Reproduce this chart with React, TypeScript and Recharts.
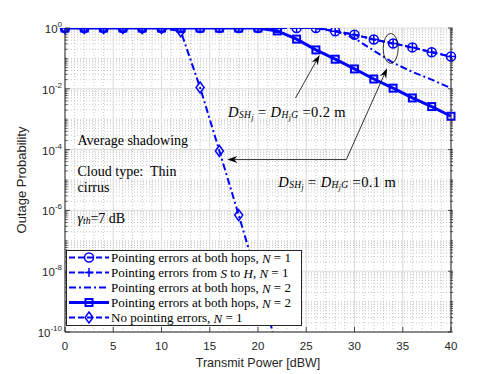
import { LineChart, Line, XAxis, YAxis, CartesianGrid, ReferenceLine, ReferenceDot } from 'recharts'

// transmit power (dBW) sample points
const power = [0, 2, 4, 6, 8, 10, 12, 14, 16, 18, 20, 22, 24, 26, 28, 30, 32, 34, 36, 38, 40]

// outage probability per curve
const bothHopsN1 = [1, 1, 1, 1, 1, 1, 1, 1, 1, 1, 1, 1, 1, 1, 0.78, 0.6, 0.42, 0.31, 0.23, 0.16, 0.115]
const sToHN1 = [1, 1, 1, 1, 1, 1, 1, 1, 1, 1, 1, 1, 1, 1, 0.78, 0.6, 0.42, 0.31, 0.23, 0.16, 0.115]
const bothHopsN2Wide = [1, 1, 1, 1, 1, 1, 1, 1, 1, 1, 1, 1, 1, 1, 0.82, 0.46, 0.18, 0.072, 0.036, 0.02, 0.0105]
const bothHopsN2 = [1, 1, 1, 1, 1, 1, 1, 1, 1, 1, 1, 0.8, 0.43, 0.19, 0.094, 0.045, 0.021, 0.0105, 0.005, 0.0026, 0.00125]
const noPointingN1 = [1, 1, 1, 1, 1, 1, 0.78, 0.011, 9e-5, 7e-7, 5e-9, 3e-11, null, null, null, null, null, null, null, null, null]

const xMajor = [0, 5, 10, 15, 20, 25, 30, 35, 40]
const yMajor = [1e-10, 1e-8, 1e-6, 1e-4, 1e-2, 1]

const legendLabels = [
  'Pointing errors at both hops, ',
  'Pointing errors from ',
  'Pointing errors at both hops, ',
  'Pointing errors at both hops, ',
  'No pointing errors, ',
]

const data = power.map((p, i) => ({
  p,
  bothN1: bothHopsN1[i],
  shN1: sToHN1[i],
  bothN2w: bothHopsN2Wide[i],
  bothN2: bothHopsN2[i],
  noPe: noPointingN1[i],
}))

// grid / tick positions
const xMinor: number[] = []
for (let i = 1; i < 40; i++) if (i % 5 !== 0) xMinor.push(i)
const yMinor: number[] = []
const yTicks: number[] = []
for (let k = -10; k < 0; k++) {
  for (let m = 1; m < 10; m++) {
    const v = m * Math.pow(10, k)
    yTicks.push(v)
    if (!(m === 1 && k % 2 === 0)) yMinor.push(v)
  }
}
yTicks.push(1)

const BLUE = '#0000ff'
const AX = '#262626'
const SANS = '"Liberation Sans", Arial, sans-serif'
const SERIF = '"Liberation Serif", "Times New Roman", serif'

const Circ = (p: any) =>
  p.cx == null || p.cy == null ? null : <circle key={`c${p.index}`} cx={p.cx} cy={p.cy} r={4.5} fill="none" stroke={BLUE} strokeWidth={1.5} />
const Plus = (p: any) =>
  p.cx == null || p.cy == null ? null : (
    <path key={`p${p.index}`} d={`M${p.cx - 4.5},${p.cy}H${p.cx + 4.5}M${p.cx},${p.cy - 4.5}V${p.cy + 4.5}`} stroke={BLUE} strokeWidth={1.5} />
  )
const Sq = (p: any) =>
  p.cx == null || p.cy == null ? null : <rect key={`s${p.index}`} x={p.cx - 3.5} y={p.cy - 3.5} width={7} height={7} fill="none" stroke={BLUE} strokeWidth={2} />
const Dia = (p: any) =>
  p.cx == null || p.cy == null ? null : (
    <path key={`d${p.index}`} d={`M${p.cx},${p.cy - 5.5}L${p.cx + 4},${p.cy}L${p.cx},${p.cy + 5.5}L${p.cx - 4},${p.cy}Z`} fill="none" stroke={BLUE} strokeWidth={1.5} />
  )

const decadeInfo = (v: number) => {
  const e = Math.log10(v)
  const ex = Math.round(e)
  const dec = Math.abs(e - ex) < 1e-6
  return { ex, major: dec && ex % 2 === 0 }
}

const YTickLeft = (p: any) => {
  const { ex, major } = decadeInfo(p.payload.value)
  return (
    <g>
      <line x1={p.x} y1={p.y} x2={p.x + (major ? 5 : 2.5)} y2={p.y} stroke={AX} strokeWidth={0.8} />
      {major && (
        <text x={p.x - 3} y={p.y + 5} textAnchor="end" fontSize={11.5} fontFamily={SANS} fill={AX}>
          10<tspan fontSize={8} dy={-6}>{ex}</tspan>
        </text>
      )}
    </g>
  )
}
const YTickRight = (p: any) => {
  const { major } = decadeInfo(p.payload.value)
  return <line x1={p.x} y1={p.y} x2={p.x - (major ? 5 : 2.5)} y2={p.y} stroke={AX} strokeWidth={0.8} />
}
const XTickBottom = (p: any) => (
  <g>
    <line x1={p.x} y1={p.y} x2={p.x} y2={p.y - 5} stroke={AX} strokeWidth={0.8} />
    <text x={p.x} y={p.y + 18} textAnchor="middle" fontSize={11.5} fontFamily={SANS} fill={AX}>
      {p.payload.value}
    </text>
  </g>
)
const XTickTop = (p: any) => <line x1={p.x} y1={p.y} x2={p.x} y2={p.y + 5} stroke={AX} strokeWidth={0.8} />

// annotation arrow, head at (x2, y2)
const Arrow = (p: any) => {
  const { x1, y1, x2, y2 } = p
  const a = Math.atan2(y2 - y1, x2 - x1)
  const L = 10
  const W = 3.5
  const bx = x2 - L * Math.cos(a)
  const by = y2 - L * Math.sin(a)
  const nx = x2 - (L - 3) * Math.cos(a)
  const ny = y2 - (L - 3) * Math.sin(a)
  const px = -Math.sin(a) * W
  const py = Math.cos(a) * W
  return (
    <g>
      <line x1={x1} y1={y1} x2={nx} y2={ny} stroke="#000" strokeWidth={0.8} />
      <path d={`M${x2},${y2}L${bx + px},${by + py}L${nx},${ny}L${bx - px},${by - py}Z`} fill="#000" />
    </g>
  )
}

const note = (lines: React.ReactNode, size = 14, spacing = 0) => (p: any) =>
  p.cx == null ? null : (
    <text x={p.cx} y={p.cy} dominantBaseline="central" fontSize={size} letterSpacing={spacing} fontFamily={SERIF} fill="#000" style={{ whiteSpace: 'pre' }}>
      {lines}
    </text>
  )

const dLabel = (val: string) => (
  <>
    <tspan fontStyle="italic">D</tspan>
    <tspan fontSize={9.5} fontStyle="italic" dy={3}>SH</tspan>
    <tspan fontSize={7.5} fontStyle="italic" dy={2}>j</tspan>
    <tspan dy={-5}>{' = '}</tspan>
    <tspan fontStyle="italic">D</tspan>
    <tspan fontSize={9.5} fontStyle="italic" dy={3}>H</tspan>
    <tspan fontSize={7.5} fontStyle="italic" dy={2}>j</tspan>
    <tspan fontSize={9.5} fontStyle="italic" dy={-2}>G</tspan>
    <tspan dy={-3}>{` =${val} m`}</tspan>
  </>
)

const Ellipse = (p: any) =>
  p.cx == null ? null : <ellipse cx={p.cx} cy={p.cy} rx={7.5} ry={15} fill="none" stroke="#000" strokeWidth={0.8} />

const legendRows = [
  { dash: '6 3', mk: 'c', width: 2 },
  { dash: '6 3', mk: 'p', width: 2 },
  { dash: '7 3 2 3', mk: '', width: 2 },
  { dash: '', mk: 's', width: 3 },
  { dash: '6 3', mk: 'd', width: 2 },
]

function LegendBox() {
  return (
    <div style={{ position: 'absolute', left: 66, top: 250, width: 236, height: 76, background: '#fff', border: `1px solid ${AX}`, boxSizing: 'border-box' }}>
      <svg width={234} height={74} style={{ display: 'block' }}>
        {legendRows.map((r, i) => {
          const y = 6.5 + i * 15
          const m = { cx: 22, cy: y, index: i }
          return (
            <g key={i}>
              <line x1={2} y1={y} x2={42} y2={y} stroke={BLUE} strokeWidth={r.width} strokeDasharray={r.dash || undefined} />
              {r.mk === 'c' && Circ(m)}
              {r.mk === 'p' && Plus(m)}
              {r.mk === 's' && Sq(m)}
              {r.mk === 'd' && Dia(m)}
              <text x={44} y={y} dominantBaseline="central" fontSize={13} fontFamily={SERIF} fill="#000" style={{ whiteSpace: 'pre' }}>
                {i === 1 ? (
                  <>
                    {legendLabels[i]}
                    <tspan fontStyle="italic">S</tspan>
                    {' to '}
                    <tspan fontStyle="italic">H</tspan>
                    {', '}
                    <tspan fontStyle="italic">N</tspan>
                    {' = 1'}
                  </>
                ) : (
                  <>
                    {legendLabels[i]}
                    <tspan fontStyle="italic">N</tspan>
                    {i === 2 || i === 3 ? ' = 2' : ' = 1'}
                  </>
                )}
              </text>
            </g>
          )
        })}
      </svg>
    </div>
  )
}

export default function App() {
  return (
    <div style={{ position: 'absolute', left: 0, top: 0, width: 498, height: 374, background: '#fff' }}>
      <LineChart width={498} height={374} data={data} margin={{ top: 28, right: 0, bottom: 0, left: 0 }}>
        <CartesianGrid verticalValues={xMinor} horizontalValues={yMinor} stroke="#bcbcbc" strokeDasharray="1 2" strokeWidth={0.8} />
        <CartesianGrid verticalValues={xMajor} horizontalValues={yMajor} stroke="#dadada" strokeWidth={1} />
        <XAxis
          dataKey="p"
          type="number"
          domain={[0, 40]}
          ticks={xMajor}
          interval={0}
          height={42}
          tickSize={0}
          tickMargin={0}
          stroke={AX}
          tick={XTickBottom}
          label={{
            content: (lp: any) => (
              <text x={lp.viewBox.x + lp.viewBox.width / 2} y={lp.viewBox.y + 31} textAnchor="middle" dominantBaseline="central" fontSize={12.5} fontFamily={SANS} fill={AX}>
                Transmit Power [dBW]
              </text>
            ),
          }}
        />
        <XAxis xAxisId="top" orientation="top" type="number" domain={[0, 40]} ticks={xMajor} interval={0} height={0} tickSize={0} stroke={AX} tick={XTickTop} />
        <YAxis
          type="number"
          scale="log"
          domain={[1e-10, 1]}
          allowDataOverflow
          ticks={yTicks}
          interval={0}
          width={65}
          tickSize={0}
          tickMargin={0}
          stroke={AX}
          tick={YTickLeft}
          label={{
            content: (lp: any) => {
              const cx = lp.viewBox.x + 21
              const cy = lp.viewBox.y + lp.viewBox.height / 2
              return (
                <text x={cx} y={cy} transform={`rotate(-90 ${cx} ${cy})`} textAnchor="middle" dominantBaseline="central" fontSize={13} fontFamily={SANS} fill={AX}>
                  Outage Probability
                </text>
              )
            },
          }}
        />
        <YAxis yAxisId="right" orientation="right" type="number" scale="log" domain={[1e-10, 1]} allowDataOverflow ticks={yTicks} interval={0} width={47} tickSize={0} stroke={AX} tick={YTickRight} />

        <Line dataKey="bothN2w" stroke={BLUE} strokeWidth={2} strokeDasharray="7 3 2 3" dot={false} activeDot={false} isAnimationActive={false} />
        <Line dataKey="bothN2" stroke={BLUE} strokeWidth={3} dot={Sq} activeDot={false} isAnimationActive={false} />
        <Line dataKey="noPe" stroke={BLUE} strokeWidth={2} strokeDasharray="7 3 2 3" dot={Dia} activeDot={false} isAnimationActive={false} />
        <Line dataKey="bothN1" stroke={BLUE} strokeWidth={2} strokeDasharray="6 3" dot={Circ} activeDot={false} isAnimationActive={false} />
        <Line dataKey="shN1" stroke={BLUE} strokeWidth={2} strokeDasharray="6 3" dot={Plus} activeDot={false} isAnimationActive={false} />

        <ReferenceDot x={33.75} y={0.213} shape={Ellipse} />
        <ReferenceLine segment={[{ x: 23.88, y: 4.95e-3 }, { x: 26.39, y: 0.13 }]} shape={Arrow} />
        <ReferenceLine segment={[{ x: 29.15, y: 4.7e-5 }, { x: 33.38, y: 0.0477 }]} shape={Arrow} />
        <ReferenceLine segment={[{ x: 29.15, y: 4.7e-5 }, { x: 16.82, y: 4.7e-5 }]} shape={Arrow} />

        <ReferenceDot x={16.9} y={1.74e-3} shape={note(dLabel('0.2'), 14.5, 0.4)} />
        <ReferenceDot x={22.1} y={8.8e-6} shape={note(dLabel('0.1'), 14.5, 0.4)} />
        <ReferenceDot x={1.3} y={2.02e-4} shape={note('Average shadowing')} />
        <ReferenceDot x={1.3} y={1.875e-5} shape={note('Cloud type:  Thin')} />
        <ReferenceDot x={1.3} y={5.58e-6} shape={note('cirrus')} />
        <ReferenceDot
          x={1.3}
          y={5.75e-7}
          shape={note(
            <>
              <tspan fontStyle="italic">γ</tspan>
              <tspan fontSize={9.5} fontStyle="italic" dy={3}>th</tspan>
              <tspan dy={-3}>=7 dB</tspan>
            </>
          )}
        />
      </LineChart>
      <LegendBox />
    </div>
  )
}
